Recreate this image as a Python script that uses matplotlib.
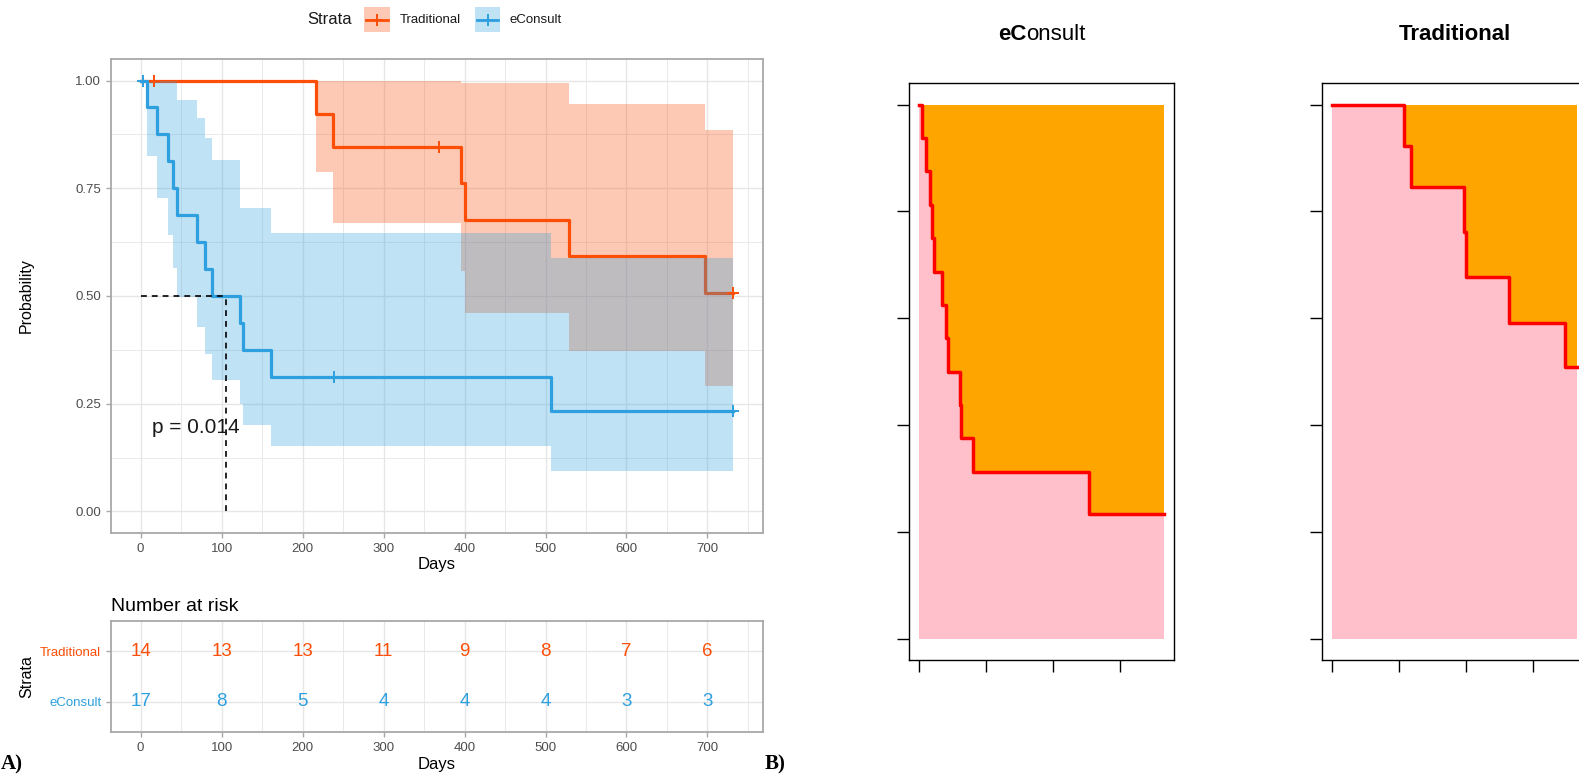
import matplotlib.pyplot as plt
from matplotlib.patches import Rectangle

plt.rcParams['font.family'] = ['Liberation Sans', 'DejaVu Sans']

# Kaplan-Meier estimates (days / survival probability)
trad_t = [0, 217, 237, 396, 401, 529, 697, 732]
trad_s = [1.0, 0.923, 0.846, 0.762, 0.677, 0.592, 0.508, 0.508]
trad_upper = [1.0, 1.0, 1.0, 0.995, 0.995, 0.945, 0.885, 0.885]
trad_lower = [1.0, 0.788, 0.670, 0.559, 0.461, 0.372, 0.291, 0.291]
trad_cens_t = [16, 368, 732]
trad_cens_s = [1.0, 0.846, 0.508]

econ_t = [0, 8, 20, 34, 40, 45, 70, 80, 88, 123, 126, 161, 507, 732]
econ_s = [1.0, 0.9375, 0.875, 0.8125, 0.75, 0.6875, 0.625, 0.5625, 0.5,
          0.4375, 0.375, 0.3125, 0.234, 0.234]
econ_upper = [1.0, 1.0, 1.0, 1.0, 1.0, 0.956, 0.912, 0.866, 0.816,
              0.705, 0.705, 0.646, 0.588, 0.588]
econ_lower = [1.0, 0.825, 0.727, 0.642, 0.565, 0.497, 0.427, 0.366, 0.306,
              0.250, 0.200, 0.152, 0.093, 0.093]
econ_cens_t = [3, 239, 732]
econ_cens_s = [1.0, 0.3125, 0.234]

median_econ = 105.5
p_text = "p = 0.014"

# number at risk table
risk_times = [0, 100, 200, 300, 400, 500, 600, 700]
risk_trad = [14, 13, 13, 11, 9, 8, 7, 6]
risk_econ = [17, 8, 5, 4, 4, 4, 3, 3]

RED = '#FC4E07'
BLUE = '#2E9FDF'
GRID = '#E6E6E6'
BORDER = '#A8A8A8'
TICKTXT = '#4D4D4D'

W, H = 1579, 775
fig = plt.figure(figsize=(W / 100, H / 100), dpi=100)


def px_axes(left, top, right, bottom):
    return fig.add_axes([left / W, 1 - bottom / H, (right - left) / W, (bottom - top) / H])


def gg_style(ax):
    ax.set_axisbelow(True)
    ax.grid(True, which='major', color=GRID, lw=1.0)
    ax.grid(True, which='minor', color=GRID, lw=0.6)
    for sp in ax.spines.values():
        sp.set_color(BORDER)
        sp.set_linewidth(1.3)
    ax.tick_params(which='major', color=BORDER, length=3.5, width=1,
                   labelcolor=TICKTXT, labelsize=9.5)
    ax.tick_params(which='minor', length=0)


# ---- A) survival curves ----
ax = px_axes(111, 59, 763, 533)
ax.set_xlim(-36.6, 768.6)
ax.set_ylim(-0.05, 1.05)
ax.set_xticks(range(0, 701, 100))
ax.set_xticks(range(50, 751, 100), minor=True)
ax.set_yticks([0, 0.25, 0.5, 0.75, 1.0])
ax.set_yticklabels(['0.00', '0.25', '0.50', '0.75', '1.00'])
ax.set_yticks([0.125, 0.375, 0.625, 0.875], minor=True)
gg_style(ax)

ax.step(trad_t, trad_s, where='post', color=RED, lw=2.3, zorder=2)
ax.step(econ_t, econ_s, where='post', color=BLUE, lw=2.3, zorder=2)
ax.fill_between(trad_t, trad_lower, trad_upper, step='post', color=RED, alpha=0.3, lw=0, zorder=3)
ax.fill_between(econ_t, econ_lower, econ_upper, step='post', color=BLUE, alpha=0.3, lw=0, zorder=3)
ax.plot(trad_cens_t, trad_cens_s, '+', color=RED, ms=9, mew=1.4, zorder=4)
ax.plot(econ_cens_t, econ_cens_s, '+', color=BLUE, ms=9, mew=1.4, zorder=4)

# median survival lines
ax.plot([0, median_econ], [0.5, 0.5], color='black', lw=1.2, dashes=(3.5, 3), zorder=5)
ax.plot([median_econ, median_econ], [0, 0.5], color='black', lw=1.2, dashes=(3.5, 3), zorder=5)

ax.text(14, 0.195, p_text, fontsize=15, ha='left', va='center', color='#1A1A1A', zorder=6)
ax.set_xlabel('Days', fontsize=12, labelpad=2)
ax.set_ylabel('Probability', fontsize=11.5, labelpad=30)

# ---- risk table ----
axr = px_axes(111, 621, 763, 732)
axr.set_xlim(-36.6, 768.6)
axr.set_ylim(0.4, 2.6)
axr.set_xticks(range(0, 701, 100))
axr.set_xticks(range(50, 751, 100), minor=True)
axr.set_yticks([1, 2])
axr.set_yticklabels(['eConsult', 'Traditional'])
gg_style(axr)
axr.tick_params(axis='y', labelsize=9.5)
axr.get_yticklabels()[0].set_color(BLUE)
axr.get_yticklabels()[1].set_color(RED)
for t, n in zip(risk_times, risk_trad):
    axr.text(t, 2, str(n), color=RED, fontsize=13.5, ha='center', va='center')
for t, n in zip(risk_times, risk_econ):
    axr.text(t, 1, str(n), color=BLUE, fontsize=13.5, ha='center', va='center')
axr.set_xlabel('Days', fontsize=12, labelpad=2)
axr.set_ylabel('Strata', fontsize=11.5, labelpad=4)
axr.set_title('Number at risk', fontsize=14, loc='left', pad=7)


# ---- B) filled survival panels ----
def fill_panel(ax, t, s):
    ax.set_xlim(-0.04 * 732, 1.04 * 732)
    ax.set_ylim(-0.04, 1.04)
    ax.fill_between(t, 0, s, step='post', color='pink', lw=0)
    ax.fill_between(t, s, 1, step='post', color='orange', lw=0)
    ax.step(t, s, where='post', color='red', lw=2.5)
    ax.set_xticks([0, 200, 400, 600])
    ax.set_yticks([0, 0.2, 0.4, 0.6, 0.8, 1.0])
    ax.set_xticklabels([])
    ax.set_yticklabels([])
    ax.tick_params(direction='out', length=8.5, width=1, color='black')
    for sp in ax.spines.values():
        sp.set_color('black')
        sp.set_linewidth(1.0)


axe = px_axes(909, 83.3, 1174.3, 660)
fill_panel(axe, econ_t, econ_s)
axt = px_axes(1321.7, 83.3, 1587, 660)
fill_panel(axt, trad_t, trad_s)

# ---- overlay for legend, titles and panel letters ----
ov = fig.add_axes([0, 0, 1, 1])
ov.set_xlim(0, W)
ov.set_ylim(H, 0)
ov.axis('off')

ov.text(307, 20, 'Strata', fontsize=12, ha='left', va='center', color='#1A1A1A')
for (x0, x1), col, lab in [((364, 390), RED, 'Traditional'), ((475, 500), BLUE, 'eConsult')]:
    ov.add_patch(Rectangle((x0, 7), x1 - x0, 25, color=col, alpha=0.3, lw=0))
    ov.plot([x0 + 2, x1 - 2], [20, 20], color=col, lw=2)
    ov.plot([(x0 + x1) / 2], [20], '+', color=col, ms=9, mew=1.4)
    ov.text(x1 + 10, 20, lab, fontsize=9.5, ha='left', va='center', color='#1A1A1A')

# titles of the right panels
ov.text(1454.4, 35, 'Traditional', fontsize=16, fontweight='bold', ha='center', va='center')
renderer = fig.canvas.get_renderer()
t1 = ov.text(0, 35, 'eC', fontsize=16, fontweight='bold', ha='left', va='center')
t2 = ov.text(0, 35, 'onsult', fontsize=16, ha='left', va='center')
w1 = t1.get_window_extent(renderer).width
w2 = t2.get_window_extent(renderer).width
x_start = 1041.7 - (w1 + w2) / 2
t1.set_x(x_start)
t2.set_x(x_start + w1)

# panel letters, kept just inside the bottom edge
ov.text(1, 774, 'A)', fontsize=15, fontweight='bold', family='Liberation Serif', ha='left', va='bottom')
ov.text(765, 774, 'B)', fontsize=15, fontweight='bold', family='Liberation Serif', ha='left', va='bottom')

fig.savefig('out.png', dpi=100)
